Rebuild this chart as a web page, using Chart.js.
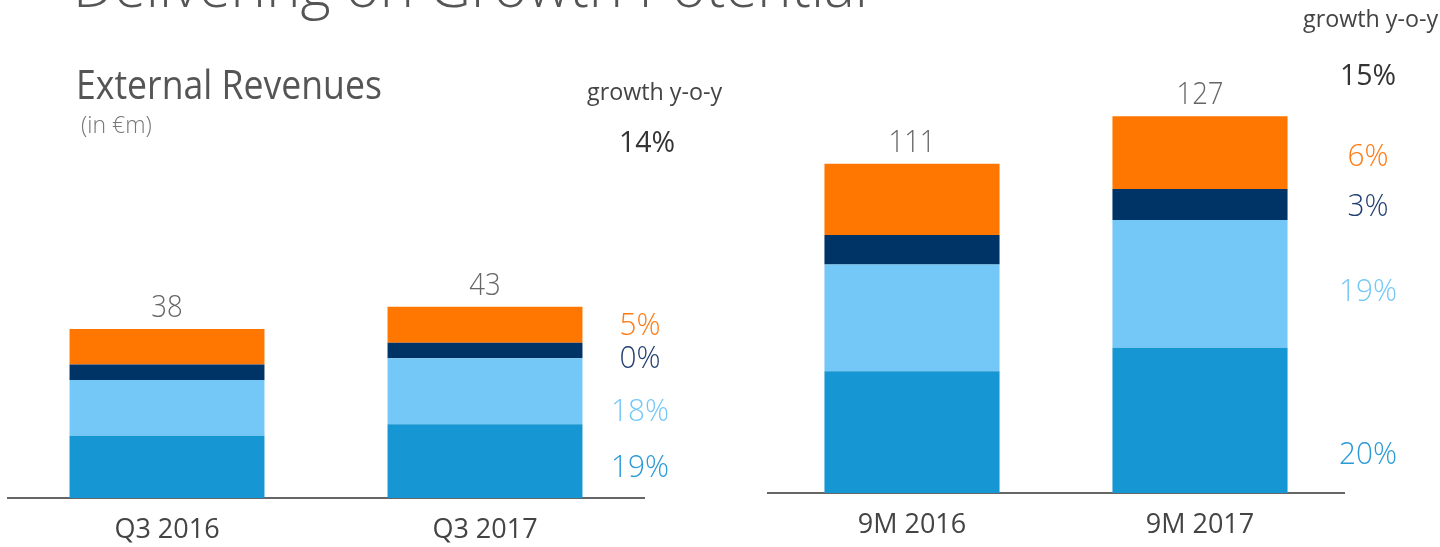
<!DOCTYPE html>
<html>
<head>
<meta charset="utf-8">
<script src="https://cdn.jsdelivr.net/npm/chart.js@4"></script>
<style>
  html, body { margin: 0; padding: 0; background: #fff; }
  body { width: 1440px; height: 547px; position: relative; overflow: hidden; font-family: 'Open Sans', sans-serif; }
  .box { position: absolute; top: 0; height: 547px; }
  .txt { position: absolute; white-space: nowrap; line-height: 1; }
</style>
</head>
<body>
<div class="box" style="left:0;width:720px"><canvas id="quarter"></canvas></div>
<div class="box" style="left:720px;width:720px"><canvas id="nine"></canvas></div>
<script>
// categories
const quarterLabels = ['Q3 2016', 'Q3 2017'];
const nineLabels = ['9M 2016', '9M 2017'];

// segment values in €m, bottom to top
const quarterBlue = [14, 16.6];
const quarterLight = [12.5, 14.8];
const quarterNavy = [3.5, 3.5];
const quarterOrange = [8, 8.1];

const nineBlue = [41, 49];
const nineLight = [36, 43];
const nineNavy = [10, 10.5];
const nineOrange = [24, 24.5];

// totals shown above the bars
const quarterTotals = [38, 43];
const nineTotals = [111, 127];

// growth y-o-y labels, top to bottom: total, orange, navy, light, blue
const quarterGrowth = ['14%', '5%', '0%', '18%', '19%'];
const nineGrowth = ['15%', '6%', '3%', '19%', '20%'];

const colors = { blue: '#1696d2', light: '#73c8f7', navy: '#003366', orange: '#ff7700' };
const growthColors = ['#333333', '#ff7a12', '#1f3d6e', '#73c8f7', '#2a9ad6'];

// text placed with its baseline at y
function put(text, x, y, size, color, weight, align, squeeze) {
  const d = document.createElement('div');
  d.className = 'txt';
  d.textContent = text;
  d.style.fontSize = size + 'px';
  d.style.color = color;
  d.style.fontWeight = weight;
  d.style.top = (y - 0.888 * size) + 'px';
  const sx = squeeze || 1;
  d.style.left = x + 'px';
  if (align === 'center') {
    d.style.transform = 'translateX(-50%) scaleX(' + sx + ')';
    d.style.transformOrigin = '50% 50%';
  } else {
    d.style.transform = 'scaleX(' + sx + ')';
    d.style.transformOrigin = '0 50%';
  }
  document.body.appendChild(d);
}

put('Delivering on Growth Potential', 73, 7, 58, '#555', 300, 'left', 1);
put('External Revenues', 76, 100, 40, '#555', 400, 'left', 0.89);
put('(in €m)', 81, 133, 23, '#777', 300, 'left', 1);

put('growth y-o-y', 587, 100, 24, '#444', 400, 'left', 0.97);
put('growth y-o-y', 1303, 27, 24, '#444', 400, 'left', 0.97);

const quarterGrowthY = [153, 336, 369, 422, 478];
const nineGrowthY = [86, 167, 217, 302, 465];
quarterGrowth.forEach((g, i) => i === 0
  ? put(g, 647, quarterGrowthY[i], 30, growthColors[i], 400, 'center', 0.95)
  : put(g, 640, quarterGrowthY[i], 31, growthColors[i], 300, 'center', 0.96));
nineGrowth.forEach((g, i) => i === 0
  ? put(g, 1368, nineGrowthY[i], 30, growthColors[i], 400, 'center', 0.95)
  : put(g, 1368, nineGrowthY[i], 31, growthColors[i], 300, 'center', 0.96));

// draws the total above each stacked bar
const totalsPlugin = {
  id: 'totals',
  afterDatasetsDraw(chart, args, opts) {
    const ctx = chart.ctx;
    const top = chart.getDatasetMeta(chart.data.datasets.length - 1);
    top.data.forEach((bar, i) => {
      ctx.save();
      ctx.font = '300 32px "Open Sans"';
      ctx.fillStyle = '#666';
      ctx.textAlign = 'center';
      ctx.textBaseline = 'alphabetic';
      ctx.translate(bar.x, bar.y - 12);
      ctx.scale(0.86, 1);
      ctx.fillText(String(opts.values[i]), 0, 0);
      ctx.restore();
    });
  }
};

function makeChart(id, labels, blue, light, navy, orange, totals, yMax, pad, axisH, catPct) {
  const seg = (data, c) => ({ data: data, backgroundColor: c, borderWidth: 0, barPercentage: 1, categoryPercentage: catPct });
  return new Chart(document.getElementById(id), {
    type: 'bar',
    data: {
      labels: labels,
      datasets: [
        seg(blue, colors.blue),
        seg(light, colors.light),
        seg(navy, colors.navy),
        seg(orange, colors.orange)
      ]
    },
    options: {
      responsive: true,
      maintainAspectRatio: false,
      animation: false,
      layout: { padding: pad },
      plugins: { legend: { display: false }, tooltip: { enabled: false }, totals: { values: totals } },
      scales: {
        x: {
          stacked: true,
          grid: { display: false },
          border: { display: true, color: '#666', width: 2 },
          ticks: { color: '#444', font: { family: 'Open Sans', size: 27 }, padding: 8 },
          afterFit: (axis) => { axis.height = axisH; }
        },
        y: { stacked: true, display: false, min: 0, max: yMax }
      }
    },
    plugins: [totalsPlugin]
  });
}

makeChart('quarter', quarterLabels, quarterBlue, quarterLight, quarterNavy, quarterOrange, quarterTotals,
  60, { left: 8, right: 76, top: 231, bottom: 0 }, 49, 0.613);
makeChart('nine', nineLabels, nineBlue, nineLight, nineNavy, nineOrange, nineTotals,
  150, { left: 48, right: 96, top: 48, bottom: 0 }, 54, 0.608);
</script>
</body>
</html>
